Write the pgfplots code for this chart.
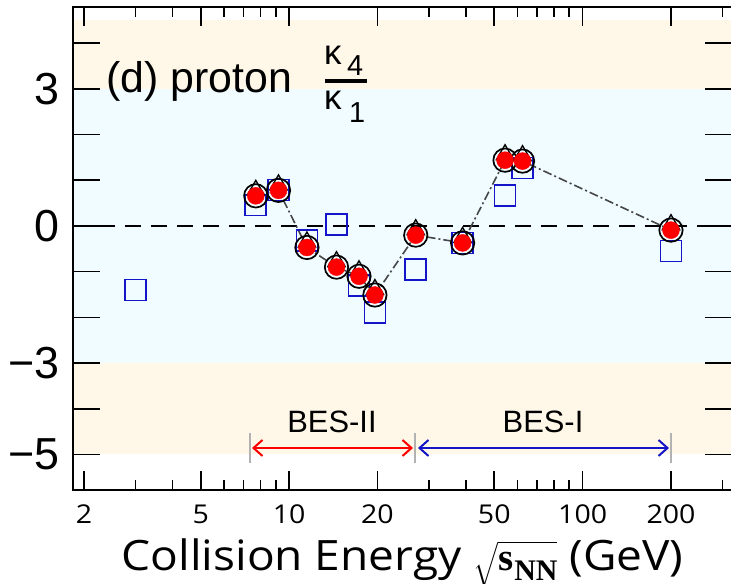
\documentclass[border=0pt]{standalone}
\usepackage{pgfplots}
\pgfplotsset{compat=1.18}
\usepackage{pgfplotstable}
\usepackage{amsmath}
\usepackage{fontspec}
\setmainfont{Liberation Sans}
\newfontfamily\osans[FakeStretch=1.1]{Open Sans}
\newfontfamily\serifb{Liberation Serif}
\usetikzlibrary{arrows.meta}

\definecolor{beige}{RGB}{255,248,232}
\definecolor{lcyan}{RGB}{240,252,255}
\definecolor{myblue}{RGB}{20,20,200}
\definecolor{myred}{RGB}{255,0,0}
\definecolor{lgray}{RGB}{70,70,70}

\newcommand\snn{{\fontsize{34}{34}\selectfont$\sqrt{\hbox{\serifb\bfseries\fontsize{39}{39}\selectfont s\kern1bp\raisebox{-10bp}{\fontsize{30}{30}\selectfont NN}}}$}}

\pgfplotstableread{
E y
7.7 0.66
9.2 0.78
11.5 -0.47
14.5 -0.90
17.3 -1.10
19.6 -1.51
27 -0.20
39 -0.37
54.4 1.44
62.4 1.42
200 -0.09
}\redtab

\pgfplotstableread{
E y
7.7 0.78
9.2 0.90
11.5 -0.35
14.5 -0.78
17.3 -0.98
19.6 -1.39
27 -0.08
39 -0.25
54.4 1.56
62.4 1.54
200 0.03
}\tritab

\pgfplotstableread{
E y
3 -1.40
7.7 0.46
9.2 0.79
11.5 -0.31
14.5 0.03
17.3 -1.30
19.6 -1.90
27 -0.95
39 -0.37
54.4 0.66
62.4 1.27
200 -0.55
}\bluetab

\begin{document}
\begin{tikzpicture}
\begin{axis}[
  scale only axis, width=659bp, height=483bp,
  xmode=log, xmin=1.835, xmax=322.8, ymin=-5.777, ymax=4.792,
  axis on top,
  axis line style={line width=1.6bp},
  tick style={line width=1.6bp, black},
  xtick={10,100}, xticklabels={10,100},
  xtick style={/pgfplots/major tick length=19bp},
  extra x ticks={2,5,20,50,200}, extra x tick labels={2,5,20,50,200},
  extra x tick style={/pgfplots/major tick length=10bp},
  minor xtick={3,4,6,7,8,9,30,40,60,70,80,90,300},
  minor tick length=10bp,
  ytick={-4,-2,0,2,4}, yticklabels={,,0,,},
  ytick style={/pgfplots/major tick length=27bp},
  extra y ticks={-5,-3,-1,1,3}, extra y tick labels={−5,−3,,,3},
  extra y tick style={/pgfplots/major tick length=13bp},
  xticklabel style={font=\osans\fontsize{26}{26}\selectfont, inner sep=0pt, anchor=base, yshift=-33bp},
  yticklabel style={font=\fontsize{45}{45}\selectfont, inner sep=0pt, anchor=east, xshift=-13bp},
  xlabel={Collision Energy \snn\ (GeV)},
  xlabel style={at={(axis description cs:0.5,0)}, anchor=base, inner sep=0pt, yshift=-80bp, font=\osans\fontsize{42}{42}\selectfont},
  clip=true,
]
\fill[beige] (axis cs:1.835,3) rectangle (axis cs:322.8,4.51);
\fill[lcyan] (axis cs:1.835,-3) rectangle (axis cs:322.8,3);
\fill[beige] (axis cs:1.835,-5) rectangle (axis cs:322.8,-3);
\draw[black, line width=1.8bp, dash pattern=on 16bp off 10bp] (axis cs:1.835,0) -- (axis cs:322.8,0);
\coordinate (sw) at (rel axis cs:0,0);

\addplot[only marks, mark=square, mark size=10.5bp, myblue, line width=1.7bp] table[x=E,y=y] {\bluetab};
\addplot[lgray, line width=1.6bp, dash pattern=on 9bp off 3bp on 2bp off 3bp, no marks] table[x=E,y=y] {\redtab};
\addplot[only marks, mark=triangle, mark size=10bp, black, line width=1.3bp] table[x=E,y=y] {\tritab};
\addplot[only marks, mark=o, mark size=11.7bp, black, line width=1.7bp] table[x=E,y=y] {\redtab};
\addplot[only marks, mark=*, mark size=8.5bp, myred, draw=myred] table[x=E,y=y] {\redtab};
\end{axis}
\begin{scope}[shift={(sw)}, xshift=-73bp, yshift=490bp, x=1bp, y=-1bp]
\node[anchor=base west, inner sep=0pt, font=\fontsize{43}{43}\selectfont] at (106,93) {(d) proton};
\node[anchor=base west, inner sep=0pt, font=\fontsize{35}{35}\selectfont] at (324,65) {κ};
\node[anchor=base west, inner sep=0pt, font=\fontsize{29}{29}\selectfont] at (347,76) {4};
\draw[line width=4bp] (325,81) -- (367,81);
\node[anchor=base west, inner sep=0pt, font=\fontsize{35}{35}\selectfont] at (324,110) {κ};
\node[anchor=base west, inner sep=0pt, font=\fontsize{29}{29}\selectfont] at (349,123) {1};
\node[anchor=base, inner sep=0pt, font=\fontsize{31}{31}\selectfont] at (332,433) {BES-II};
\node[anchor=base, inner sep=0pt, font=\fontsize{31}{31}\selectfont] at (543,433) {BES-I};
\draw[myred, line width=2bp, {Straight Barb[length=9bp,width=16bp]}-{Straight Barb[length=9bp,width=16bp]}] (252,448) -- (413,448);
\draw[myblue, line width=2bp, {Straight Barb[length=9bp,width=16bp]}-{Straight Barb[length=9bp,width=16bp]}] (418,448) -- (669,448);
\draw[gray!60, line width=2bp] (250,433) -- (250,463) (415,433) -- (415,463) (671,433) -- (671,463);
\pgfresetboundingbox
\useasboundingbox (0,0) rectangle (731,584);
\end{scope}
\end{tikzpicture}
\end{document}
